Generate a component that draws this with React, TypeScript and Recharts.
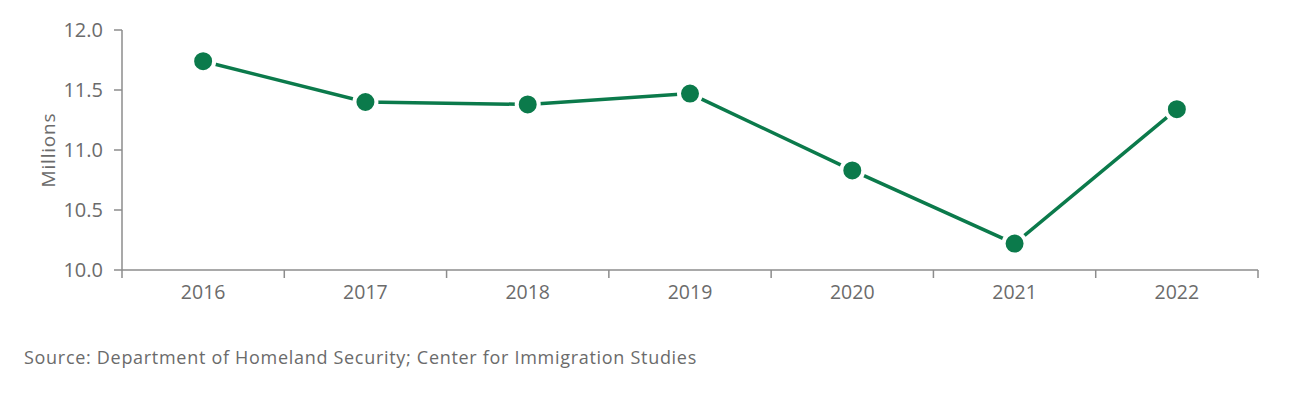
import { LineChart, Line, XAxis, YAxis, Label } from 'recharts';

const years = ['2016', '2017', '2018', '2019', '2020', '2021', '2022'];
const millions = [11.74, 11.4, 11.38, 11.47, 10.83, 10.22, 11.34];
const yTicks = [10.0, 10.5, 11.0, 11.5, 12.0];

const data = years.map((year, i) => ({ year, value: millions[i] }));

const GREEN = '#0b7a4b';
const AXIS = '#8c8c8c';
const TEXT = '#6b6b6b';
const FONT = '"Open Sans", "Noto Sans", sans-serif';

const CHART_W = 1300;
const MARGIN = { top: 30, right: 42, left: 62, bottom: 93 };
const Y_AXIS_W = 60;
const PLOT_W = CHART_W - MARGIN.left - MARGIN.right - Y_AXIS_W;
const BAND = PLOT_W / years.length;

// category label in band centre, tick marks on band edges
function YearTick(props: any) {
  const { x, y, payload, index } = props;
  const last = index === years.length - 1;
  return (
    <g>
      <line x1={x - BAND / 2} y1={y - 8} x2={x - BAND / 2} y2={y} stroke={AXIS} strokeWidth={1.5} />
      {last && <line x1={x + BAND / 2} y1={y - 8} x2={x + BAND / 2} y2={y} stroke={AXIS} strokeWidth={1.5} />}
      <text x={x} y={y + 21} textAnchor="middle" fill={TEXT} fontSize={19.5} fontFamily={FONT}>
        {payload.value}
      </text>
    </g>
  );
}

export default function App() {
  return (
    <div style={{ position: 'absolute', left: 0, top: 0, width: 1300, height: 393, background: '#fff' }}>
      <LineChart width={CHART_W} height={393} data={data} margin={MARGIN}>
        <XAxis
          dataKey="year"
          scale="band"
          stroke={AXIS}
          strokeWidth={1.5}
          tickLine={false}
          tick={<YearTick />}
          height={30}
          interval={0}
        />
        <YAxis
          domain={[10, 12]}
          ticks={yTicks}
          width={Y_AXIS_W}
          stroke={AXIS}
          strokeWidth={1.5}
          tickSize={8}
          tickMargin={11}
          tickFormatter={(v: number) => v.toFixed(1)}
          tick={{ fill: TEXT, fontSize: 20, fontFamily: FONT }}
        >
          <Label
            value="Millions"
            angle={-90}
            position="insideLeft"
            offset={-14}
            style={{ fill: TEXT, fontSize: 19, letterSpacing: 0.8, fontFamily: FONT, textAnchor: 'middle' }}
          />
        </YAxis>
        <Line
          type="linear"
          dataKey="value"
          stroke={GREEN}
          strokeWidth={3.5}
          dot={{ r: 11, fill: GREEN, stroke: '#fff', strokeWidth: 4 }}
          activeDot={false}
          isAnimationActive={false}
        />
      </LineChart>
      <div
        style={{
          position: 'absolute',
          left: 24,
          top: 345,
          fontFamily: FONT,
          fontSize: 18,
          letterSpacing: 0.7,
          color: TEXT,
          whiteSpace: 'nowrap',
        }}
      >
        Source: Department of Homeland Security; Center for Immigration Studies
      </div>
    </div>
  );
}
